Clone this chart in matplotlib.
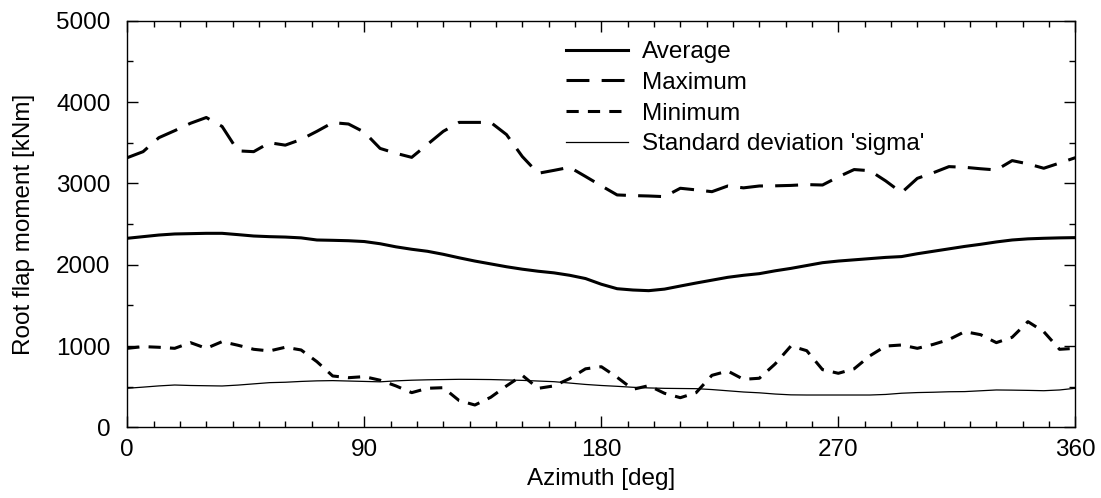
#!/usr/bin/env python3
"""Root flap moment statistics vs azimuth."""

import matplotlib
matplotlib.use("Agg")
import matplotlib.pyplot as plt
from matplotlib.ticker import MultipleLocator

# azimuth bins [deg], 6 deg spacing
azimuth = list(range(0, 361, 6))

average = [2325, 2345, 2365, 2378, 2382, 2386, 2386, 2370, 2353, 2345,
           2340, 2330, 2304, 2300, 2295, 2285, 2258, 2220, 2190, 2165,
           2128, 2085, 2045, 2010, 1975, 1945, 1920, 1900, 1870, 1830,
           1760, 1705, 1689, 1681, 1700, 1738, 1775, 1810, 1845, 1870,
           1890, 1925, 1955, 1990, 2025, 2045, 2060, 2075, 2090, 2100,
           2135, 2165, 2195, 2225, 2251, 2280, 2304, 2318, 2325, 2330,
           2333]

maximum = [3316, 3390, 3562, 3648, 3739, 3810, 3700, 3400, 3390, 3500,
           3470, 3540, 3640, 3747, 3730, 3630, 3430, 3370, 3320, 3480,
           3640, 3750, 3750, 3750, 3600, 3330, 3124, 3160, 3198, 3085,
           2970, 2858, 2850, 2845, 2837, 2940, 2920, 2898, 2968, 2945,
           2968, 2970, 2975, 2985, 2980, 3080, 3170, 3156, 3030, 2886,
           3062, 3130, 3206, 3198, 3180, 3165, 3280, 3240, 3186, 3250,
           3316]

minimum = [972, 993, 985, 972, 1042, 972, 1054, 1010, 960, 940,
           985, 952, 808, 632, 611, 624, 580, 510, 427, 481,
           488, 330, 275, 370, 510, 640, 480, 510, 600, 720,
           746, 616, 468, 513, 419, 365, 427, 640, 693, 591,
           604, 780, 1001, 943, 710, 665, 720, 880, 1000, 1013,
           972, 1020, 1080, 1177, 1140, 1042, 1108, 1300, 1177, 960,
           972]

sigma = [481, 495, 510, 521, 515, 512, 509, 520, 535, 550,
         555, 565, 572, 575, 570, 565, 560, 572, 580, 585,
         588, 591, 590, 588, 583, 578, 570, 562, 545, 528,
         515, 505, 493, 485, 480, 478, 476, 465, 450, 435,
         425, 410, 400, 398, 398, 398, 398, 398, 405, 420,
         428, 432, 438, 440, 450, 460, 458, 455, 451, 460,
         481]

plt.rcParams["font.family"] = ["Liberation Sans", "DejaVu Sans"]
plt.rcParams["font.size"] = 17.5

fig = plt.figure(figsize=(11.01, 4.98), dpi=100)
ax = fig.add_axes([0.1156, 0.1418, 0.8611, 0.8166])

ax.plot(azimuth, average, color="black", lw=2.2, label="Average")
ax.plot(azimuth, maximum, color="black", lw=2.2, dashes=(7.5, 4.0), label="Maximum")
ax.plot(azimuth, minimum, color="black", lw=2.2, dashes=(4.0, 3.0), label="Minimum")
ax.plot(azimuth, sigma, color="black", lw=0.9, label="Standard deviation 'sigma'")

ax.set_xlim(0, 360)
ax.set_ylim(0, 5000)
ax.xaxis.set_major_locator(MultipleLocator(90))
ax.xaxis.set_minor_locator(MultipleLocator(10))
ax.yaxis.set_major_locator(MultipleLocator(1000))
ax.yaxis.set_minor_locator(MultipleLocator(500))
ax.tick_params(which="both", direction="in", top=True, right=True, width=1.0)
ax.tick_params(which="major", length=8)
ax.tick_params(which="minor", length=4.5)
ax.tick_params(axis="x", which="both", pad=8.5)
ax.tick_params(axis="y", which="both", pad=12)
for s in ax.spines.values():
    s.set_linewidth(1.0)

ax.set_xlabel("Azimuth [deg]", labelpad=5)
ax.set_ylabel("Root flap moment [kNm]", labelpad=15)

ax.legend(loc="upper left", bbox_to_anchor=(0.463, 0.95), frameon=False,
          borderpad=0, borderaxespad=0, handlelength=2.55, handletextpad=0.55,
          labelspacing=0.36)

fig.savefig("out.png", dpi=100)
